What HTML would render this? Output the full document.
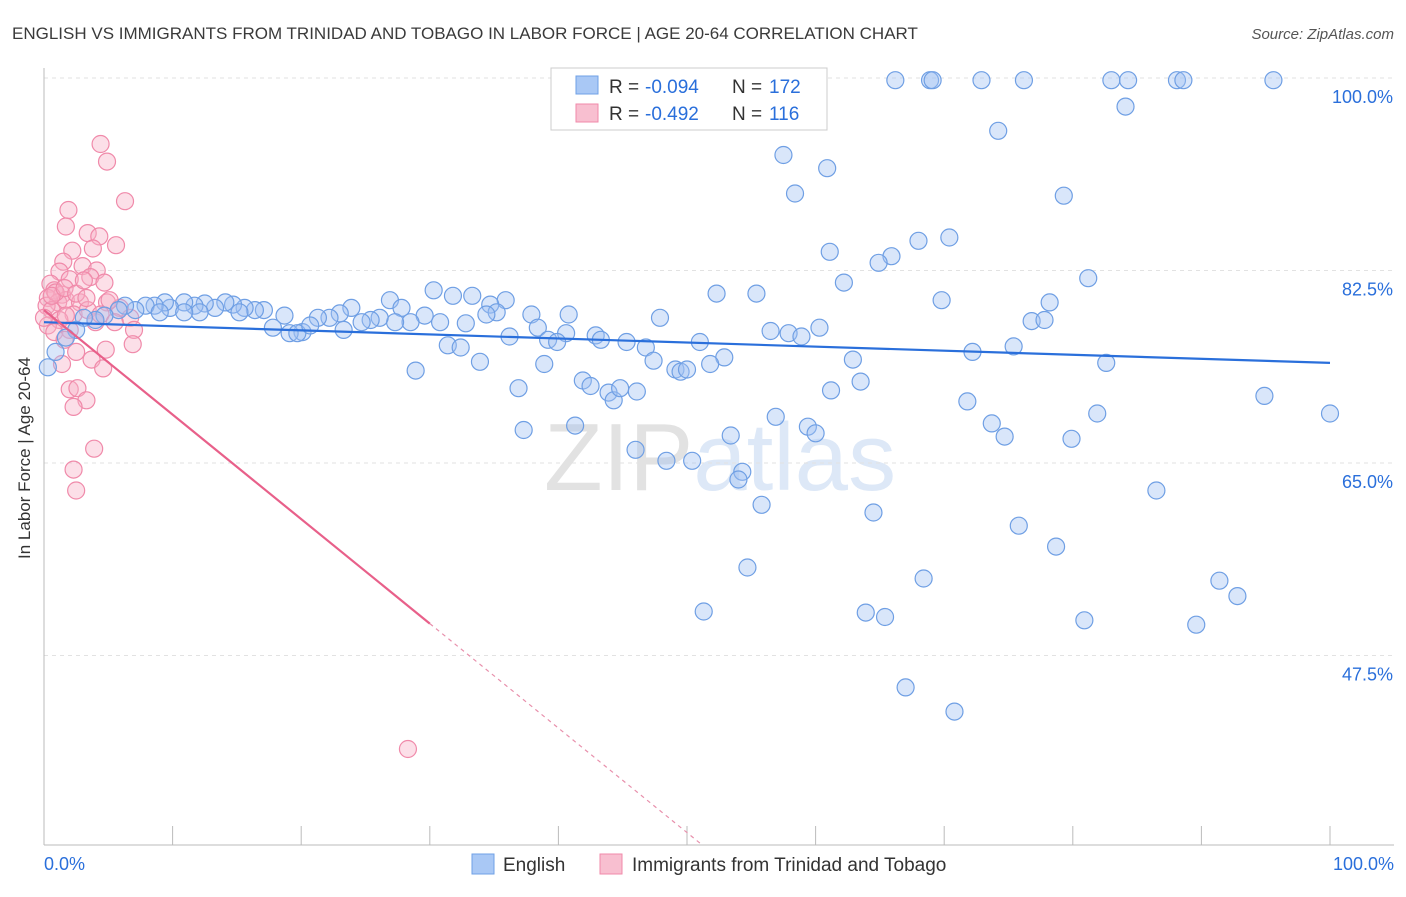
<!DOCTYPE html>
<html><head><meta charset="utf-8"><style>
body{margin:0;background:#fff;font-family:"Liberation Sans",sans-serif;}
svg text{font-family:"Liberation Sans",sans-serif;}
</style></head><body>
<svg id="chart" width="1406" height="892">
<text x="12" y="39" font-size="17" fill="#3a3a3a">ENGLISH VS IMMIGRANTS FROM TRINIDAD AND TOBAGO IN LABOR FORCE | AGE 20-64 CORRELATION CHART</text>
<text x="1394" y="39" font-size="15" fill="#555" text-anchor="end" font-style="italic">Source: ZipAtlas.com</text>
<text x="720" y="490" font-size="96" fill="#e8e8e8" text-anchor="middle" font-family="Liberation Serif"><tspan fill="#e2e2e2">ZIP</tspan><tspan fill="#dde8f7" font-family="Liberation Sans">atlas</tspan></text>
<g id="grid"></g>
<g id="axes"></g>
<g id="pts"></g>
<g id="trends"></g>
<text x="30" y="458" font-size="17" fill="#333" text-anchor="middle" transform="rotate(-90 30 458)">In Labor Force | Age 20-64</text>
<g>
<rect x="551" y="68" width="276" height="62" fill="#fff" stroke="#ccc"/>
<rect x="576" y="76" width="22" height="18" fill="#a9c8f5" stroke="#6fa0e6"/>
<g font-size="19">
<text x="609" y="93" fill="#333">R =</text><text x="645" y="93" fill="#2a6fdb">-0.094</text>
<text x="732" y="93" fill="#333">N =</text><text x="769" y="93" fill="#2a6fdb">172</text></g>
<rect x="576" y="104" width="22" height="18" fill="#f8bfd0" stroke="#f08aaa"/>
<g font-size="19">
<text x="609" y="120" fill="#333">R =</text><text x="645" y="120" fill="#2a6fdb">-0.492</text>
<text x="732" y="120" fill="#333">N =</text><text x="769" y="120" fill="#2a6fdb">116</text></g>
</g>
<g>
<rect x="472" y="854" width="22" height="20" fill="#a9c8f5" stroke="#6fa0e6"/>
<text x="503" y="871" font-size="19" fill="#333">English</text>
<rect x="600" y="854" width="22" height="20" fill="#f8bfd0" stroke="#f08aaa"/>
<text x="632" y="871" font-size="19" fill="#333">Immigrants from Trinidad and Tobago</text>
</g>
</svg>
<script>
const yTicks=[100,82.5,65,47.5];
const yTickLabels=["100.0%","82.5%","65.0%","47.5%"];
const xEndLabels=["0.0%","100.0%"];
const blueX=[66.2,68.9,69.1,72.9,76.2,83.0,84.3,88.1,88.6,95.6,84.1,74.2,57.5,60.9,58.4,79.3,68.0,70.4,61.1,65.9,64.9,62.2,81.2,52.3,55.4,69.8,78.2,76.8,77.8,47.9,60.3,56.5,57.9,58.9,51.0,52.9,51.8,75.4,72.2,62.9,82.6,63.5,61.2,71.8,94.9,100,56.9,81.9,73.7,74.7,79.9,59.4,60.0,53.4,46.0,48.4,50.4,54.3,54.0,55.8,64.5,86.5,75.8,78.7,54.7,68.4,91.4,92.8,51.3,63.9,65.4,80.9,89.6,67.0,70.8,30.3,31.8,33.3,35.9,34.7,35.2,34.4,26.9,27.8,37.9,40.8,38.4,40.6,39.2,39.9,36.2,42.9,43.3,45.3,46.8,47.4,49.1,49.5,50.0,33.9,31.4,32.4,28.9,36.9,38.9,41.9,42.5,43.9,44.3,44.8,46.1,41.3,37.3,30.8,32.8,29.6,28.5,27.3,26.1,25.4,24.7,23.9,23.0,22.2,21.3,23.3,20.1,19.1,19.7,20.7,17.8,18.7,17.1,16.4,15.6,14.7,14.1,13.3,12.5,11.7,10.9,9.8,9.4,8.6,7.9,7.1,6.3,5.8,4.7,4.0,3.1,2.5,1.7,0.9,0.3,9.0,12.1,15.2,10.9];
const blueY=[99.8,99.8,99.8,99.8,99.8,99.8,99.8,99.8,99.8,99.8,97.4,95.2,93.0,91.8,89.5,89.3,85.2,85.5,84.2,83.8,83.2,81.4,81.8,80.4,80.4,79.8,79.6,77.9,78.0,78.2,77.3,77.0,76.8,76.5,76.0,74.6,74.0,75.6,75.1,74.4,74.1,72.4,71.6,70.6,71.1,69.5,69.2,69.5,68.6,67.4,67.2,68.3,67.7,67.5,66.2,65.2,65.2,64.2,63.5,61.2,60.5,62.5,59.3,57.4,55.5,54.5,54.3,52.9,51.5,51.4,51.0,50.7,50.3,44.6,42.4,80.7,80.2,80.2,79.8,79.4,78.7,78.5,79.8,79.1,78.5,78.5,77.3,76.8,76.2,76.0,76.5,76.6,76.2,76.0,75.5,74.3,73.5,73.3,73.5,74.2,75.7,75.5,73.4,71.8,74.0,72.5,72.0,71.4,70.7,71.8,71.5,68.4,68.0,77.8,77.7,78.4,77.8,77.8,78.2,78.0,77.8,79.1,78.6,78.2,78.2,77.1,76.9,76.8,76.8,77.5,77.3,78.4,78.9,78.9,79.1,79.4,79.6,79.1,79.5,79.3,79.6,79.1,79.6,79.3,79.3,78.9,79.3,78.9,78.4,78.0,78.2,77.1,76.4,75.1,73.7,78.7,78.7,78.7,78.7];
const pinkX=[4.4,4.9,6.3,1.9,1.7,3.4,4.3,5.6,2.2,3.8,1.5,3.0,4.1,1.2,2.0,3.6,0.5,0.8,1.4,0.3,1.1,1.7,2.8,0.2,0.6,2.3,4.9,3.4,5.9,6.7,1.2,0.3,0.8,2.0,4.0,7.0,1.6,6.9,2.5,4.8,3.7,1.4,4.6,2.0,2.6,3.3,2.3,3.9,2.3,2.5,28.3,0.9,0.6,1.6,2.5,3.3,5.1,4.4,5.5,3.1,4.7,1.7,0];
const pinkY=[94.0,92.4,88.8,88.0,86.5,85.9,85.6,84.8,84.3,84.5,83.3,82.9,82.5,82.4,81.7,81.9,81.3,80.7,80.3,80.0,79.6,79.8,79.6,79.3,78.9,78.5,79.6,78.9,79.1,78.2,78.0,77.5,76.9,77.1,77.8,77.1,76.2,75.8,75.1,75.3,74.4,74.0,73.6,71.7,71.8,70.7,70.1,66.3,64.4,62.5,39.0,80.5,80.2,80.9,80.4,80.0,79.8,78.5,77.8,81.6,81.4,78.4,78.2];
const blueTrend=[77.8,74.1];
const pinkTrend=[78.9,-0.95];

const X0=44,X1=1330,YT=78,PPU=11;
const sx=v=>X0+(X1-X0)*v/100;
const sy=v=>YT+(100-v)*PPU;
const NS="http://www.w3.org/2000/svg";
function mk(t,a,p){const e=document.createElementNS(NS,t);for(const k in a)e.setAttribute(k,a[k]);p.appendChild(e);return e;}
const grid=document.getElementById('grid'),axes=document.getElementById('axes'),pts=document.getElementById('pts'),tr=document.getElementById('trends');
yTicks.forEach((v,i)=>{
 const l=mk('line',{x1:X0,x2:1394,y1:sy(v),y2:sy(v),stroke:'#e2e2e2','stroke-dasharray':'4,4'},grid);
 
 
 const t=mk('text',{x:1393,y:sy(v)+25,'font-size':18,fill:'#2a6fdb','text-anchor':'end'},axes);
 t.textContent=yTickLabels[i];
 
 
});
mk('line',{x1:X0,x2:X0,y1:68,y2:845,stroke:'#bbb'},axes);
mk('line',{x1:X0,x2:1394,y1:845,y2:845,stroke:'#bbb'},axes);
for(let i=0;i<=10;i++){const l=mk('line',{x1:sx(i*10),x2:sx(i*10),y1:826,y2:845,stroke:'#bbb'},axes);
 
 }
const xl=mk('text',{x:44,y:870,'font-size':18,fill:'#2a6fdb'},axes);xl.textContent=xEndLabels[0];


const xr=mk('text',{x:1394,y:870,'font-size':18,fill:'#2a6fdb','text-anchor':'end'},axes);xr.textContent=xEndLabels[1];


pinkX.forEach((x,i)=>{const c=mk('circle',{cx:sx(x),cy:sy(pinkY[i]),r:8.5,fill:'rgba(248,175,198,0.4)',stroke:'#f08aaa','stroke-width':1.2},pts);
 
 });
blueX.forEach((x,i)=>{const c=mk('circle',{cx:sx(x),cy:sy(blueY[i]),r:8.5,fill:'rgba(160,192,242,0.4)',stroke:'#6f9fe4','stroke-width':1.2},pts);
 
 });
const bl=mk('line',{x1:sx(0),y1:sy(blueTrend[0]),x2:sx(100),y2:sy(blueTrend[1]),stroke:'#2a6fdb','stroke-width':2.2},tr);


const pf=x=>pinkTrend[0]+pinkTrend[1]*x;
const pl=mk('line',{x1:sx(0),y1:sy(pf(0)),x2:sx(30),y2:sy(pf(30)),stroke:'#e8608a','stroke-width':2.2},tr);


const xe=(pinkTrend[0]-30.3)/-pinkTrend[1];
const pd=mk('line',{x1:sx(30),y1:sy(pf(30)),x2:sx(xe),y2:sy(pf(xe)),stroke:'#e890ac','stroke-width':1.2,'stroke-dasharray':'4,4'},tr);


</script>
</body></html>
